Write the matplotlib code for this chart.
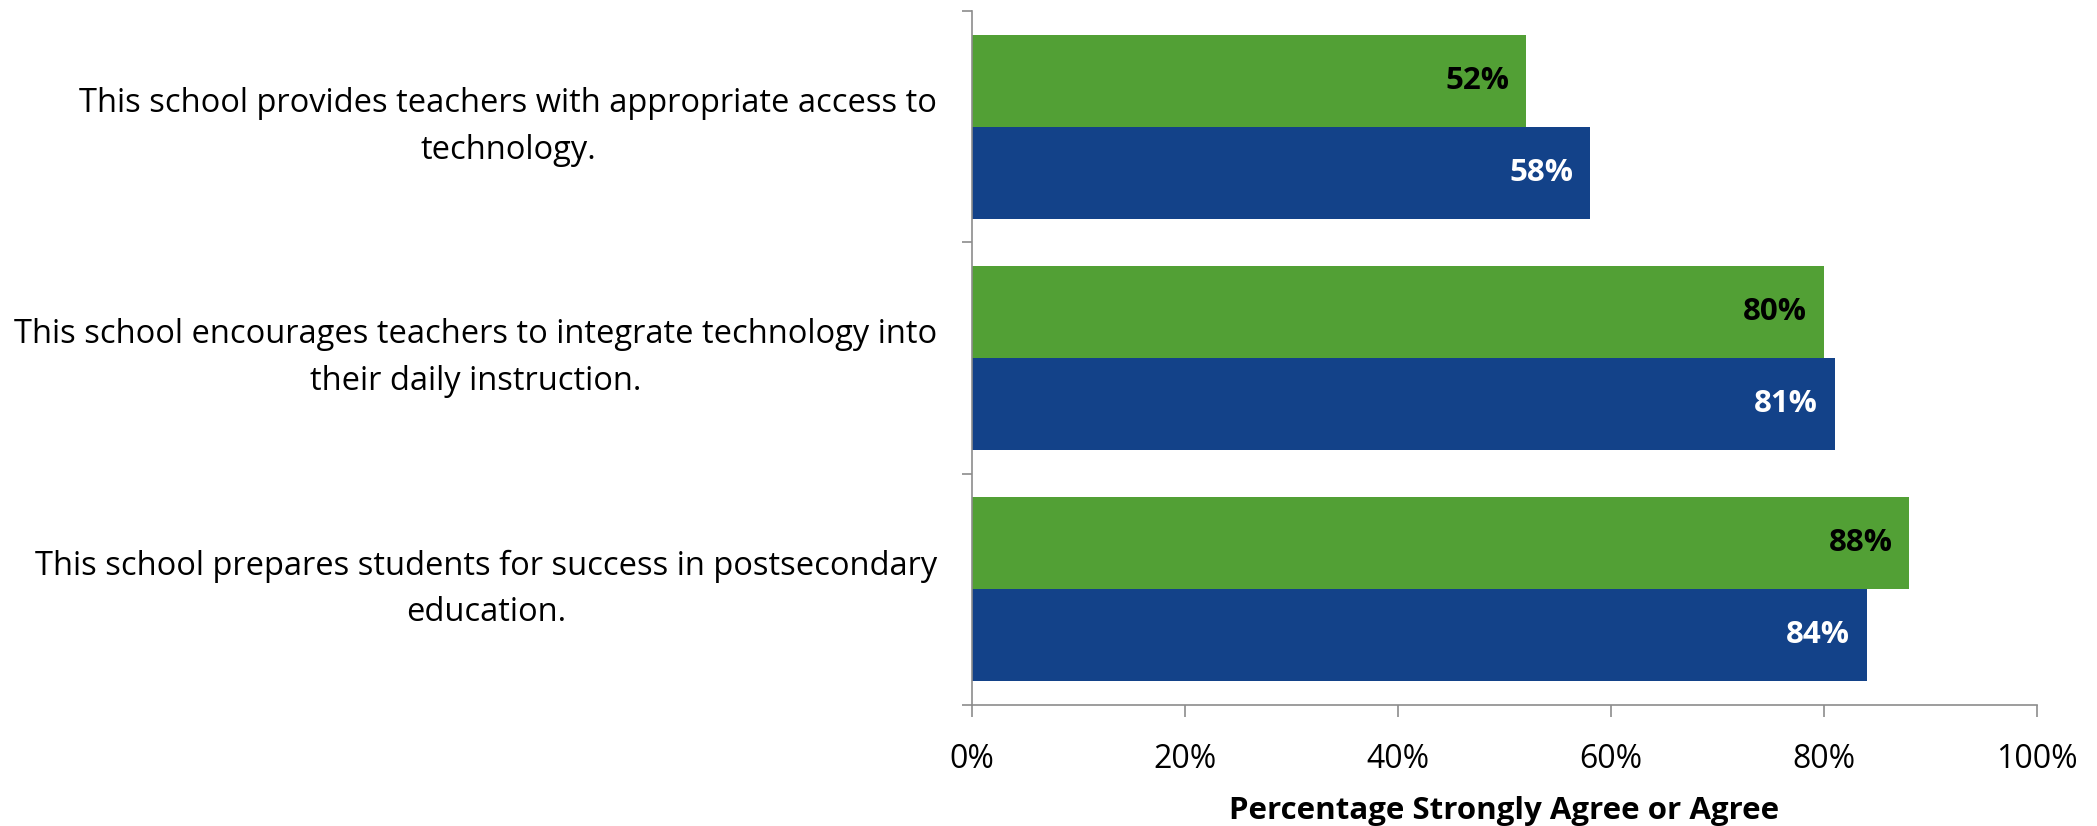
import numpy as np
import matplotlib
matplotlib.use("Agg")
from matplotlib import pyplot as plt
from matplotlib.ticker import FixedLocator

plt.rcParams['font.family'] = ['Open Sans', 'DejaVu Sans']

statements = [
    "This school provides teachers with appropriate access to\ntechnology.",
    "This school encourages teachers to integrate technology into\ntheir daily instruction.",
    "This school prepares students for success in postsecondary\neducation.",
]
green_values = [52, 80, 88]
blue_values = [58, 81, 84]
x_ticks = [0, 20, 40, 60, 80, 100]

green = '#52a035'
blue = '#134289'
axis_grey = '#8c8c8c'

fig = plt.figure(figsize=(20.97, 8.26), dpi=100)
ax = fig.add_axes([972 / 2097, 1 - 705 / 826, (2037 - 972) / 2097, (705 - 11) / 826])

y = np.arange(len(statements))
h = 0.397
bars_g = ax.barh(y - h / 2, green_values, height=h, color=green)
bars_b = ax.barh(y + h / 2, blue_values, height=h, color=blue)

# value labels just inside the end of each bar
for bars, vals, col in [(bars_g, green_values, 'black'), (bars_b, blue_values, 'white')]:
    for bar, v in zip(bars, vals):
        ax.annotate(f"{v}%", (v, bar.get_y() + bar.get_height() / 2), xytext=(-12, 0),
                    textcoords='offset points', ha='right', va='center',
                    fontsize=22.5, fontweight='bold', color=col)

ax.set_xlim(0, 100)
ax.set_ylim(len(statements) - 0.5, -0.5)

ax.set_xticks(x_ticks)
ax.set_xticklabels([f"{t}%" for t in x_ticks], fontsize=23)
ax.set_yticks(y)
ax.set_yticklabels(statements, fontsize=23.5, multialignment='center',
                   linespacing=1.55, va='center')
ax.yaxis.set_minor_locator(FixedLocator(np.arange(-0.5, len(statements), 1.0)))

ax.tick_params(axis='y', which='major', length=0, pad=25)
ax.tick_params(axis='y', which='minor', length=7, width=1.2, color=axis_grey)
ax.tick_params(axis='x', length=8.6, width=1.2, color=axis_grey, pad=19)

for side in ['top', 'right']:
    ax.spines[side].set_visible(False)
for side in ['left', 'bottom']:
    ax.spines[side].set_color(axis_grey)
    ax.spines[side].set_linewidth(1.2)

ax.set_xlabel("Percentage Strongly Agree or Agree", fontsize=22.5, fontweight='bold', labelpad=14)

fig.savefig("out.png", dpi=100)
